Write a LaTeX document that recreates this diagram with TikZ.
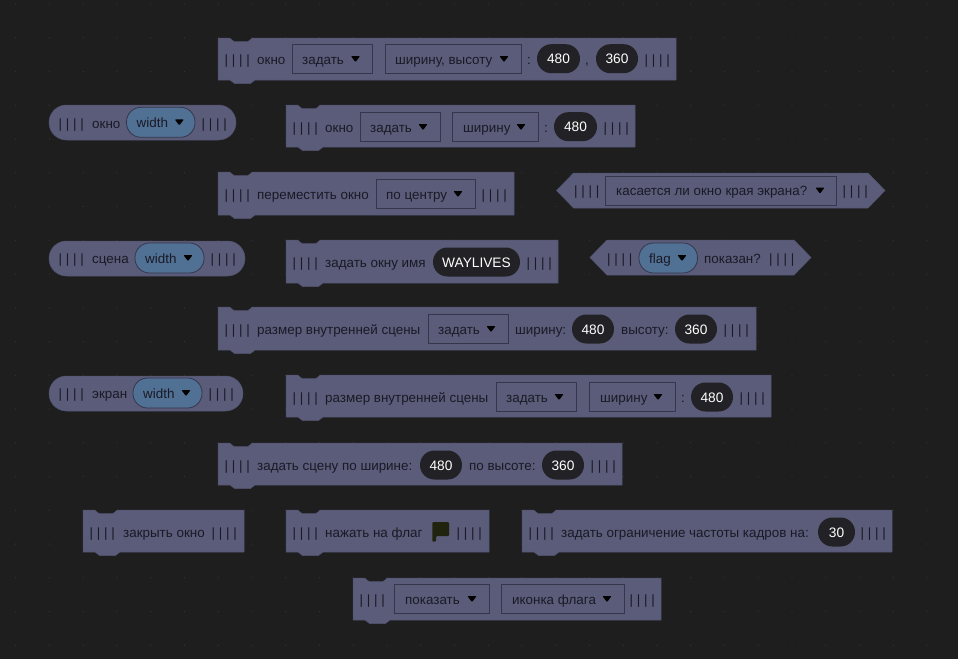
\documentclass[tikz,border=0pt]{standalone}
\usepackage{fontspec}
\setmainfont{Liberation Sans}
\definecolor{bg}{HTML}{1E1E1E}
\definecolor{blk}{HTML}{5A5C79}
\definecolor{edge}{HTML}{515370}
\definecolor{ink}{HTML}{191A26}
\definecolor{boxln}{HTML}{35364C}
\definecolor{fld}{HTML}{507094}
\definecolor{flagc}{HTML}{20240F}
\definecolor{pill}{HTML}{222226}
\definecolor{griddot}{HTML}{343434}
\tikzset{
  x=1pt,y=-1pt,
  blockshape/.style={fill=blk,draw=edge,line width=.5pt},
  lab/.style={anchor=base west,inner sep=0pt,font=\fontsize{13.4}{16}\selectfont,text=ink},
  vallab/.style={anchor=base,inner sep=0pt,font=\fontsize{13.7}{16}\selectfont,text=white},
  dropbox/.style={draw=boxln,fill=blk,line width=.9pt},
  field/.style={draw=boxln,fill=fld,line width=.8pt},
  valpill/.style={fill=pill},
  tri/.style={fill=black},
}
% stack block
\newcommand{\stackblk}[5]{% name x1 y1 x2 y2
  \path[blockshape] (#2,#3) -- ++(11.5,0) .. controls +(2,0) and +(-2,0) .. ++(4.5,3.5) -- ++(14,0) .. controls +(2,0) and +(-2,0) .. ++(4.5,-3.5) -- (#4,#3) -- (#4,#5) -- ({#2+37},#5) .. controls +(-2,0) and +(2,0) .. ++(-4.5,3.5) -- ++(-16,0) .. controls +(-2,0) and +(2,0) .. ++(-4.5,-3.5) -- (#2,#5) -- cycle;
  \coordinate (#1) at (#2,#3);
}
\newcommand{\pillblk}[5]{%
  \path[blockshape,rounded corners=17.5pt] (#2,#3) rectangle (#4,#5);
  \coordinate (#1) at (#2,#3);
}
\newcommand{\hexblk}[5]{%
  \path[blockshape] (#2,{(#3+#5)/2}) -- ({#2+17},#3) -- ({#4-17},#3) -- (#4,{(#3+#5)/2}) -- ({#4-17},#5) -- ({#2+17},#5) -- cycle;
  \coordinate (#1) at (#2,#3);
}
\newcommand{\ticks}[3]{\node[lab] (#1) at (#2-.5,#3+5) {| | | |};}
\newcommand{\txt}[4]{\node[lab] (#1) at (#2,#3+5) {#4};}
\newcommand{\trimark}[2]{\path[tri,rounded corners=.9pt] (#1-4.6,#2-3) -- (#1+4.6,#2-3) -- (#1,#2+3.1) -- cycle;}
% name x1 x2 ycentre text textx trix halfheight
\newcommand{\dropd}[8]{%
  \path[dropbox] (#2,#4-#8) rectangle (#3,#4+#8);
  \node[lab] (#1) at (#6,#4+5) {#5};
  \trimark{#7}{#4}%
}
\newcommand{\fldd}[7]{%
  \path[field,rounded corners=14.5pt] (#2,#4-15) rectangle (#3,#4+15);
  \node[lab] (#1) at (#6,#4+5) {#5};
  \trimark{#7}{#4}%
}
\newcommand{\val}[5]{%
  \path[valpill,rounded corners=14.4pt] (#2,#4-14.5) rectangle (#3,#4+14.5);
  \node[vallab] (#1) at ({(#2+#3)/2},#4+5) {#5};
}
\begin{document}
\begin{tikzpicture}
\useasboundingbox (0,0) rectangle (958,659);
\fill[bg] (0,0) rectangle (958,659);
\foreach \i in {0,...,28} \foreach \j in {0,...,19}
  \fill[griddot] ({15.7+\i*33.75},{4+\j*33.75}) circle (.7);

% row 1
\stackblk{a}{218}{38}{676}{80}
\ticks{a1}{225}{59}\txt{a2}{257}{59}{окно}
\dropd{a3}{292}{372}{59}{задать}{302}{355.5}{14.7}
\dropd{a4}{385}{521}{59}{ширину, высоту}{395}{504}{14.7}
\txt{a5}{527}{59}{:}
\val{a6}{537}{580}{58.7}{480}
\txt{a7}{585}{59}{,}
\val{a8}{596}{638}{58.7}{360}
\ticks{a9}{645}{59}

% row 2
\pillblk{b}{49}{105}{236}{140}
\ticks{b1}{59}{123}\txt{b2}{92}{123}{окно}
\fldd{b3}{126.5}{195}{122.3}{width}{136.5}{179.3}
\ticks{b4}{202}{123}

\stackblk{c}{286}{105}{635}{147}
\ticks{c1}{293}{127}\txt{c2}{325}{127}{окно}
\dropd{c3}{360}{440}{127}{задать}{370}{423}{14.7}
\dropd{c4}{452}{538}{127}{ширину}{463}{521}{14.7}
\txt{c5}{544}{127}{:}
\val{c6}{554}{597}{126.7}{480}
\ticks{c7}{604}{127}

% row 3
\stackblk{d}{218}{172}{514}{215}
\ticks{d1}{225}{194}\txt{d2}{257}{194}{переместить окно}
\dropd{d3}{376}{475}{194}{по центру}{386}{458}{14.7}
\ticks{d4}{482}{194}

\hexblk{e}{556.5}{173}{885}{208}
\ticks{e1}{574.5}{190}
\dropd{e2}{605}{836}{190.5}{касается ли окно края экрана?}{616}{820}{14.5}
\ticks{e3}{843}{190}

% row 4
\pillblk{f}{49}{241}{245}{276}
\ticks{f1}{59}{258}\txt{f2}{92}{258}{сцена}
\fldd{f3}{135}{204}{258}{width}{145}{188}
\ticks{f4}{211}{258}

\stackblk{g}{286}{240}{558}{283}
\ticks{g1}{293}{262}\txt{g2}{325}{262}{задать окну имя}
\val{g3}{433}{520}{262}{WAYLIVES}
\ticks{g4}{527}{262}

\hexblk{h}{590}{240}{811}{275}
\ticks{h1}{607.5}{258}
\fldd{h2}{639}{697.5}{258}{flag}{649}{682}
\txt{h3}{704}{258}{показан?}
\ticks{h4}{769.5}{258}

% row 5
\stackblk{i}{218}{307}{756}{350}
\ticks{i1}{225}{329}\txt{i2}{257}{329}{размер внутренней сцены}
\dropd{i3}{428}{508}{329}{задать}{438}{491}{14.7}
\txt{i4}{515}{329}{ширину:}
\val{i5}{572}{614}{329}{480}
\txt{i6}{621}{329}{высоту:}
\val{i7}{675}{717}{329}{360}
\ticks{i8}{724}{329}

% row 6
\pillblk{j}{49}{376}{243}{411}
\ticks{j1}{59}{393}\txt{j2}{92}{393}{экран}
\fldd{j3}{133}{202}{393}{width}{143}{186}
\ticks{j4}{209}{393}

\stackblk{k}{286}{375}{771}{417}
\ticks{k1}{293}{397}\txt{k2}{325}{397}{размер внутренней сцены}
\dropd{k3}{496}{576}{397}{задать}{506}{559}{14.7}
\dropd{k4}{589}{675}{397}{ширину}{600}{658}{14.7}
\txt{k5}{681}{397}{:}
\val{k6}{691}{733}{397}{480}
\ticks{k7}{740}{397}

% row 7
\stackblk{l}{218}{443}{622}{485}
\ticks{l1}{225}{465}\txt{l2}{257}{465}{задать сцену по ширине:}
\val{l3}{420}{462}{465}{480}
\txt{l4}{469}{465}{по высоте:}
\val{l5}{542}{584}{465}{360}
\ticks{l6}{591}{465}

% row 8
\stackblk{m}{83}{510}{244}{552}
\ticks{m1}{90}{532}\txt{m2}{123}{532}{закрыть окно}\ticks{m3}{212}{532}

\stackblk{n}{286}{510}{489}{552}
\ticks{n1}{293}{532}\txt{n2}{325}{532}{нажать на флаг}
\path[fill=flagc,rounded corners=1pt] (432.3,522) -- (449,522) -- (449,536) -- (436,536) -- (436,541.7) -- (432.3,541.7) -- cycle;
\ticks{n3}{457}{532}

\stackblk{o}{522}{510}{892}{552}
\ticks{o1}{529}{532}\txt{o2}{561}{532}{задать ограничение частоты кадров на:}
\val{o3}{818}{855}{532}{30}
\ticks{o4}{861}{532}

% row 9
\stackblk{p}{353}{578}{661}{620}
\ticks{p1}{360}{599}
\dropd{p2}{394}{489}{599}{показать}{405}{472}{14.7}
\dropd{p3}{501}{624}{599}{иконка флага}{512}{607}{14.7}
\ticks{p4}{630}{599}
\end{tikzpicture}
\end{document}
